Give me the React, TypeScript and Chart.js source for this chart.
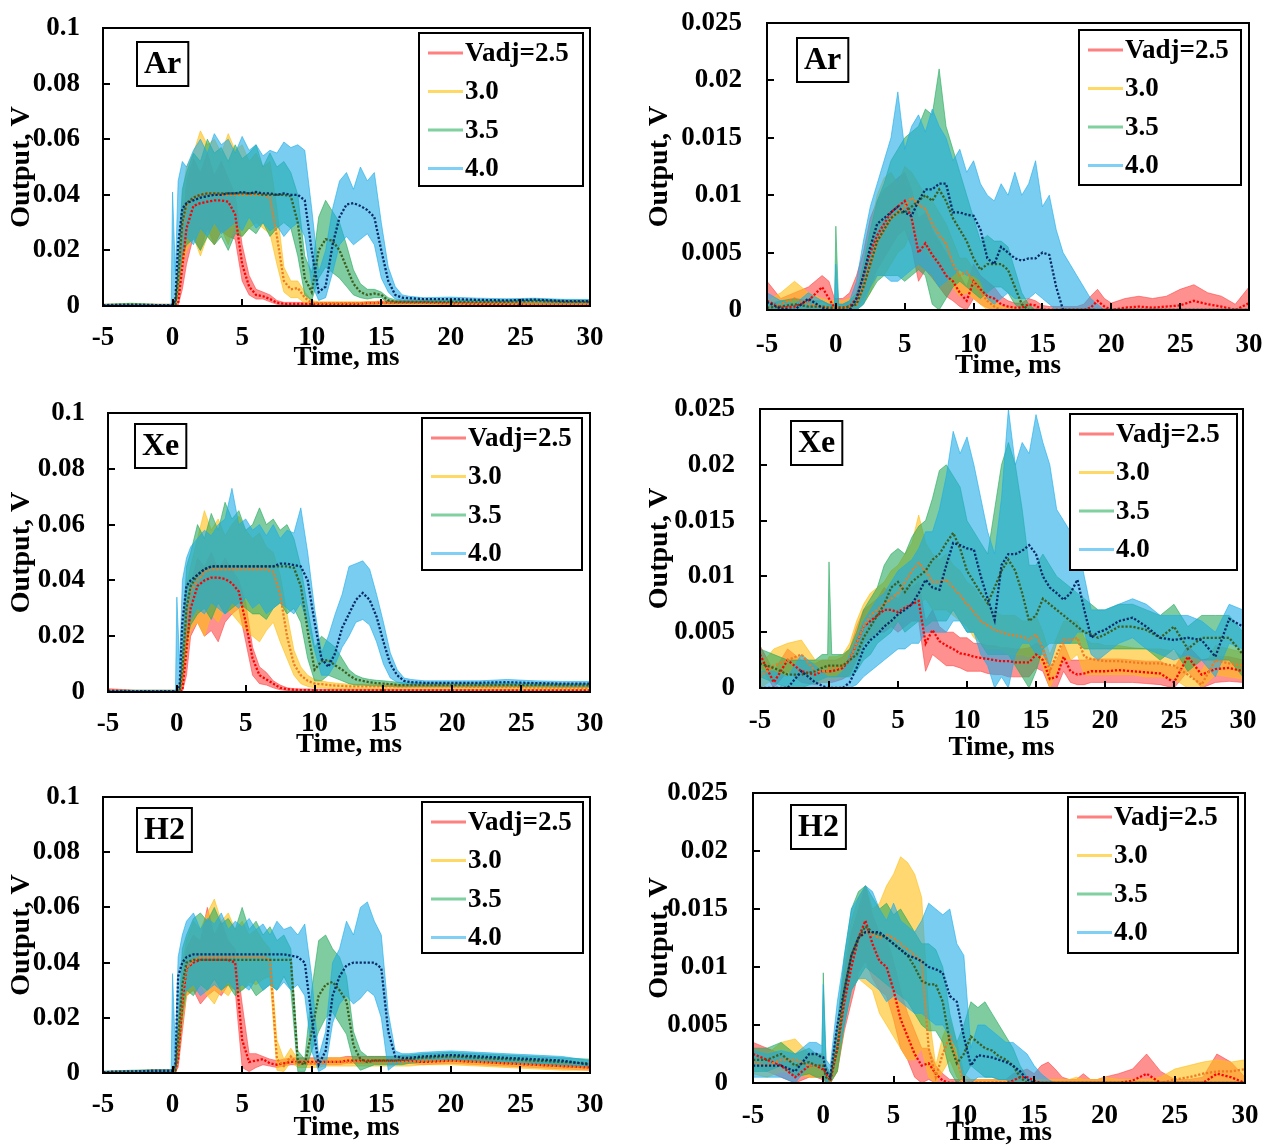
import React, { useEffect, useRef } from "react";
import { Chart, registerables } from "chart.js";
Chart.register(...registerables);

// ---------- time grids (ms) ----------
const T_LEFT = [-5,-3,-1,-0.1,0,0.2,0.4,0.7, 1,1.5,2,2.5,3,3.5,4,4.5,5,5.5, 6,6.5,7,7.5,8,8.5,9,9.5,10,10.5, 11,11.5,12,12.5,13,13.5,14,14.5,15,15.5, 16,16.5,17, 18,20,22,24,26,28,30];
const T_RIGHT = [-5,-4,-3,-2,-1,-0.5,-0.1,0,0.2, 0.5,1,1.5,2,2.5,3,3.5,4,4.5,5, 5.5,6,6.5,7,7.5,8,8.5,9,9.5,10, 10.5,11,11.5,12,12.5,13,13.5,14,14.5,15, 15.5,16,16.5,17,17.5,18,18.5,19,19.5,20, 21,22,23,24,25,26,27,28,29,30];

const SERIES_LABELS = ["Vadj=2.5", "3.0", "3.5", "4.0"];
const X_TITLE = "Time, ms";
const Y_TITLE = "Output, V";

// ---------- values in mV ----------
// Ar, 0-0.1 V
const AR_A_25_MEAN = [0.3,0.3,0.3,0.3,0.3,0.3,1,14, 28,36,37,37.5,38,38,37.5,33,15,7, 4,3.5,2.5,1.2,0.8,0.8,0.8,0.8,0.8,0.8, 0.8,0.8,0.8,0.8,0.8,0.8,1,1,1.2,1.2, 1.2,1.2,1.2, 1.2,1,0.8,0.6,0.5,0.5,0.5];
const AR_A_25_HI = [0.6,0.6,0.6,0.6,0.6,0.6,2,25, 45,53,48,55,47,52,46,40,22,11, 6,5,4,2,1.3,1.3,1.3,1.3,1.3,1.3, 1.3,1.3,1.3,1.3,1.3,1.3,1.6,1.6,1.8,1.8, 1.8,1.8,1.8, 1.8,1.5,1.3,1.1,1,1,1];
const AR_A_25_LO = [0,0,0,0,0,0,0.3,6, 15,25,20,28,22,27,25,24,9,4, 2.5,2.5,1.5,0.6,0.4,0.4,0.4,0.4,0.4,0.4, 0.4,0.4,0.4,0.4,0.4,0.4,0.5,0.5,0.7,0.7, 0.7,0.7,0.7, 0.7,0.5,0.4,0.2,0.1,0.1,0.1];
const AR_A_30_MEAN = [0.3,0.3,0.3,0.3,0.3,0.5,8,28, 36,39,40,40.5,40.5,40,40,40,40,40, 40,40,39,25,9,6,6.5,3,1.2,1, 1,1,1,1,1,1,1,1,1,1, 1,1,1, 1,1,1,1,0.8,0.8,0.8];
const AR_A_30_HI = [0.6,0.6,0.6,0.6,0.6,1,12,40, 50,55,63,58,60,55,62,56,58,52, 55,50,52,35,14,9,9,5,2,1.5, 1.5,1.5,1.5,1.5,1.5,1.5,1.5,1.5,1.5,1.5, 1.5,1.5,1.5, 1.5,1.5,1.5,1.5,1.2,1.2,1.2];
const AR_A_30_LO = [0,0,0,0,0,0.2,3,15, 20,25,18,25,22,28,22,30,25,28, 30,28,26,15,5,3,3,1,0.5,0.5, 0.5,0.5,0.5,0.5,0.5,0.5,0.5,0.5,0.5,0.5, 0.5,0.5,0.5, 0.5,0.5,0.5,0.5,0.4,0.4,0.4];
const AR_A_35_MEAN = [0.3,0.6,0.3,0.3,0.3,0.5,10,30, 37,39,40,40.5,40.5,40.5,40.5,40.5,40.5,40.5, 40.5,40,40,40,40,39.5,30,10,5,20, 24,23.5,20,14,8,5,4,4.5,4,2, 1.5,1.5,1.5, 1.5,1.5,1.5,1.5,1.8,1.5,1.5];
const AR_A_35_HI = [0.6,1,0.6,0.6,0.6,1,15,42, 48,55,52,60,55,57,52,58,53,55, 58,50,55,50,52,48,40,18,12,32, 38,34,30,22,13,8,6,6,5,3, 2.2,2.2,2.2, 2.2,2.2,2.2,2.2,2.5,2.2,2.2];
const AR_A_35_LO = [0,0.2,0,0,0,0.2,4,18, 22,24,20,25,22,25,20,26,25,28, 26,30,25,28,30,28,18,4,2,10, 14,12,10,7,4,3,2.5,3,3,1, 1,1,1, 1,1,1,1,1.2,1,1];
const AR_A_40_MEAN = [0.3,0.3,0.3,0.3,0.5,2,22,35, 37,38,39,39.5,40,40,40.5,40.5,41,40.5, 41,40.5,40.5,40,40.5,40,40,38,20,5, 7,22,32,36.5,37,36,34.5,32,20,9, 4,3,2.8, 2.5,2.5,2.2,2,2.3,1.8,1.7];
const AR_A_40_HI = [0.5,0.5,0.5,0.5,41,12,45,52, 50,56,60,55,62,58,60,55,61,56, 58,54,56,55,59,57,58,56,35,12, 20,35,45,48,42,50,45,48,30,14, 7,4,3.5, 3,3.2,2.8,2.6,2.8,2.4,2.3];
const AR_A_40_LO = [0,0,0,0,0.2,0.5,10,20, 25,22,28,25,30,26,28,30,27,32, 28,30,27,29,25,28,30,25,8,2, 3,12,22,25,22,24,26,22,10,5, 2.5,2,2, 1.8,1.8,1.6,1.5,1.6,1.3,1.2];

// Xe, 0-0.1 V
const XE_A_25_MEAN = [0.5,0.3,0.3,0.3,0.3,0.3,0.5,15, 30,38,40,41,41,40.5,39,36,25,12, 6,4.5,3,1.5,1,0.8,0.7,0.7,0.6,0.6, 0.6,0.6,0.6,0.6,0.6,0.6,0.6,0.6,0.6,0.6, 0.6,0.6,0.6, 0.6,0.6,0.6,0.6,0.6,0.6,0.6];
const XE_A_25_HI = [1.2,0.6,0.6,0.6,0.6,0.6,1,25, 38,48,45,50,44,48,44,40,32,16, 9,7,4,2.5,1.5,1.2,1.1,1.1,1,1, 1,1,1,1,1,1,1,1,1,1, 1,1,1, 1,1,1,1,1,1,1];
const XE_A_25_LO = [0,0,0,0,0,0,0.2,6, 20,25,20,22,18,25,28,30,18,6, 3,2.5,1.5,0.8,0.5,0.4,0.3,0.3,0.2,0.2, 0.2,0.2,0.2,0.2,0.2,0.2,0.2,0.2,0.2,0.2, 0.2,0.2,0.2, 0.2,0.2,0.2,0.2,0.2,0.2,0.2];
const XE_A_30_MEAN = [0.3,0.3,0.3,0.3,0.3,0.5,5,25, 36,40,43,44,44,44,44,44,44,44, 44,44,43,35,20,10,6,4,3,2.8, 2.5,2.3,2.2,2,2,2,2,2,2,2, 2,2,2, 2,2,1.8,1.8,1.6,1.6,1.5];
const XE_A_30_HI = [0.6,0.6,0.6,0.6,0.6,1,10,38, 45,55,65,58,62,56,60,63,58,55, 57,52,50,42,28,15,9,6,4.5,4, 3.5,3.2,3,2.8,2.8,2.8,2.8,2.8,2.8,2.8, 2.8,2.8,2.8, 2.8,2.8,2.6,2.6,2.4,2.4,2.2];
const XE_A_30_LO = [0,0,0,0,0,0.2,2,14, 22,25,20,28,25,30,28,25,22,20, 18,22,25,18,12,6,3,2,1.5,1.5, 1.3,1.2,1.2,1.2,1.2,1.2,1.2,1.2,1.2,1.2, 1.2,1.2,1.2, 1.2,1.2,1,1,0.9,0.9,0.8];
const XE_A_35_MEAN = [0.3,0.3,0.3,0.3,0.3,0.5,8,30, 38,42,44,45,45,45,45,45,45,45, 45,45,45,45,45,44.5,38,22,8,11, 11.5,9.5,8,6,4.5,4,3.5,3.2,3,2.8, 2.5,2.5,2.5, 2.5,2.5,2.5,2.5,2.5,2.4,2.4];
const XE_A_35_HI = [0.6,0.6,0.6,0.6,0.6,1,14,45, 50,60,55,64,58,68,62,65,58,60, 66,60,62,58,60,55,45,30,16,20, 18,16,12,8,6,5,4.5,4.2,4,3.8, 3.5,3.3,3.3, 3.2,3.2,3.2,3.2,3.2,3,3];
const XE_A_35_LO = [0,0,0,0,0,0.2,3,18, 24,28,30,26,32,28,30,32,30,28, 28,26,30,32,28,30,25,12,4,4, 6,5,4,3,2.5,2.5,2.2,2.2,2,2, 1.8,1.8,1.8, 1.8,1.8,1.8,1.8,1.8,1.7,1.7];
const XE_A_40_MEAN = [0.3,0.3,0.3,0.3,0.5,2,25,38, 40,42,44,45,45,45,45,45,45,45, 45,45,45,46,46,45.5,45,40,25,12, 9,14,23,28,33,35.5,33,27,18,10, 6,4,3.5, 3.3,3.3,3.3,3.5,3.2,3,3];
const XE_A_40_HI = [0.6,0.6,0.6,0.6,34,10,40,48, 52,55,58,56,60,62,73,60,62,58, 60,56,60,55,58,57,66,50,30,14, 20,28,35,45,46,47,44,35,25,14, 8,5,4.5, 4,4,4,4.5,4,3.8,3.8];
const XE_A_40_LO = [0,0,0,0,0.2,0.5,12,24, 26,30,28,32,30,28,32,30,34,30, 32,28,30,32,30,28,32,25,15,6, 6,10,16,20,25,26,24,18,10,5, 3.5,2.8,2.5, 2.5,2.5,2.5,2.6,2.4,2.2,2.2];

// H2, 0-0.1 V
const H2_A_25_MEAN = [0.3,0.5,0.8,0.8,0.8,0.8,5,25, 38,40,41,41,41,41,41,40,12,4, 4.5,5,3.5,3,3.5,4,4,4,4,4, 4,4,4,4.5,4.5,4.5,4.5,4.5,4.5,4.5, 4.5,4.5,4.5, 4,4.5,4,3.5,3,2.5,2];
const H2_A_25_HI = [0.6,0.8,1.2,1.2,1.2,1.2,8,35, 45,50,48,60,50,55,48,45,25,7, 7,6,5,4.5,5,5.5,5.5,5.5,5.5,5.5, 5.5,5.5,5.5,6,6,6,6,6,6,6, 6,6,6, 5.5,6,5.5,5,4.5,4,3.5];
const H2_A_25_LO = [0,0.2,0.4,0.4,0.4,0.4,2,15, 28,30,25,28,30,28,32,30,2,0.5, 2,3,2.5,2,2.5,3,3,3,3,3, 3,3,3,3.5,3.5,3.5,3.5,3.5,3.5,3.5, 3.5,3.5,3.5, 3,3.5,3,2.5,2,1.5,1];
const H2_A_30_MEAN = [0.3,0.5,0.8,0.8,0.8,1,10,30, 38,41,42,42,42,42,42,42,42,42, 42,42,41,5,2.5,6,3,3.5,3.5,3.5, 4,4,4,4,4,4,4,4,4,4, 4,4,4, 4.5,4.5,4,3.5,3,2.5,2];
const H2_A_30_HI = [0.6,0.8,1.2,1.2,1.2,1.5,15,40, 48,55,52,58,63,55,58,52,55,50, 52,48,45,12,5,9,5,5,5,5, 5.5,5.5,5.5,5.5,5.5,5.5,5.5,5.5,5.5,5.5, 5.5,5.5,5.5, 6,6,5.5,5,4.5,3.5,3];
const H2_A_30_LO = [0,0.2,0.4,0.4,0.4,0.5,4,18, 28,30,32,28,25,30,28,32,30,33, 32,34,35,1,0.5,4,2,2,2,2, 2.5,2.5,2.5,2.5,2.5,2.5,2.5,2.5,2.5,2.5, 2.5,2.5,2.5, 3,3,2.5,2,1.5,1,1];
const H2_A_35_MEAN = [0.3,0.6,0.8,0.8,0.8,1,12,32, 40,41,41,41,41,41,41,41,41,41, 41,41,41,41,41,41,4,3,15,28, 32,33,30,26,10,5,4,4.5,4.5,4.5, 4.5,4.8,5, 5.5,6,5.5,5,4.5,4,3.5];
const H2_A_35_HI = [0.6,1,1.2,1.2,1.2,1.5,18,45, 50,56,58,55,60,54,56,52,60,52, 55,50,53,48,50,45,8,5,30,48, 50,45,42,35,15,8,6,6,6,6, 6,6.5,6.5, 7,7.5,7,6.5,6,5.5,5];
const H2_A_35_LO = [0,0.2,0.4,0.4,0.4,0.5,5,20, 30,28,32,30,34,30,32,28,30,32, 28,30,32,30,35,30,0.5,0.5,8,15, 20,22,18,14,4,1,2,3,3,3, 3,3,3.5, 4,4.5,4,3.5,3,2.5,2];
const H2_A_40_MEAN = [0.3,0.5,0.8,0.8,1,3,35,40, 42,43,43,43,43,43,43,43,43,43, 43,43,43,43,43,42.5,42,40,20,3, 8,28,35,39,40,40,40,40,38,15, 6,5.5,5.5, 6,6.5,6,5.5,5,4.5,3];
const H2_A_40_HI = [0.6,0.8,1.2,1.2,36,8,42,50, 55,58,52,56,54,58,52,55,53,56, 52,54,50,55,52,53,50,54,35,6, 15,40,45,55,50,60,62,55,50,22, 8,7,7, 7.5,8,7.5,7,6.5,6,4.5];
const H2_A_40_LO = [0,0.2,0.4,0.4,0.5,1,20,28, 30,32,28,30,32,30,33,30,32,30, 34,30,32,30,33,30,32,28,8,0.5, 2,18,25,28,25,27,30,28,20,1, 3,4,4, 4.5,5,4.5,4,3.5,3,2];

// Ar, 0-0.025 V
const AR_B_25_MEAN = [0.8,0.2,0.3,0.8,2,1,0.2,0.2,0.2, 0.2,0.3,1,3,5,6.5,7.5,8.5,9,9.5, 8,5,5.8,4.8,4,3,2.5,1.5,0.8,2.5, 1.8,1.2,1,0.5,0.3,0.2,0.2,0.5,0.4,0, 0,0,0,0,0,0,0.2,0.8,0.3,0, 0.2,0.3,0.2,0.3,0.4,0.8,0.5,0.3,0,0.6];
const AR_B_25_HI = [2.5,1,1.5,2,3,2.5,1,1,1, 1,1.5,3,5,8,9.5,10.5,11,11.5,12, 10.5,8,8.5,7,6,5,4,3,2,4, 3,2.5,2,1.2,0.8,0.6,0.6,1,0.8,0.4, 0.3,0.3,0.3,0.3,0.3,0.5,1.2,1.8,1,0.6, 1,1.2,1,1.2,1.8,2.2,1.5,1.2,0.5,2];
const AR_B_25_LO = [0,0,0,0,0.8,0.3,0,0,0, 0,0,0,1,2,3.5,4.5,5.5,6.5,7, 5.5,2.5,3.5,2.8,2,1.2,0.8,0.3,0,1, 0.5,0.2,0,0,0,0,0,0,0,0, 0,0,0,0,0,0,0,0.2,0,0, 0,0,0,0,0,0,0,0,0,0];
const AR_B_30_MEAN = [0.2,0.5,1,0.5,0.3,0.2,0.2,0.2,0.2, 0.2,0.3,0.5,2,4,6,7,8,8.5,9, 9.8,9.2,8.8,7.5,6.5,5.8,4,3,3.3,2.5, 1.5,0.8,0.3,0,0,0,0,0,0,0, 0,0,0,0,0,0,0,0,0,0, 0,0,0,0,0,0,0,0,0,0];
const AR_B_30_HI = [0.8,1.5,2.5,1.5,1,0.8,0.8,0.8,0.8, 0.8,1,1.5,4,7,10,11.5,12,11,12.5, 12,11,10,9.5,8.5,7.5,6,4.5,4.5,3.5, 2.5,1.5,0.8,0.3,0.2,0.2,0,0,0,0, 0,0,0,0,0,0,0,0,0,0, 0,0,0,0,0,0,0,0,0,0];
const AR_B_30_LO = [0,0,0.2,0,0,0,0,0,0, 0,0,0,0.5,1.5,3,3,4,5,5.5, 7,6,5,4.5,4,3,2,1.2,1.5,1, 0.5,0,0,0,0,0,0,0,0,0, 0,0,0,0,0,0,0,0,0,0, 0,0,0,0,0,0,0,0,0,0];
const AR_B_35_MEAN = [0.2,0.3,0.5,0.3,0.3,0.2,0.2,0.2,0.2, 0.2,0.3,0.5,2,4,6,7,8,8.5,8.5, 9,9.5,10,9.5,10.5,9.5,8,7,6,4.5, 3.5,4,4,4,3.5,2,0.5,0,0,0, 0,0,0,0,0,0,0,0,0,0, 0,0,0,0,0,0,0,0,0,0];
const AR_B_35_HI = [0.5,0.8,1,0.8,0.8,0.5,0.5,7.3,0.5, 0.5,0.8,1.5,4,7,9.5,11,13,14,15, 15.5,16,17.5,17,21,16,14,12,10,8, 6,6.5,6,6,5.5,3.5,1.5,0.5,0,0, 0,0,0,0,0,0,0,0,0,0, 0,0,0,0,0,0,0,0,0,0];
const AR_B_35_LO = [0,0,0,0,0,0,0,0,0, 0,0,0,0.5,1.5,2.5,3,3,3,2.5, 3,3.5,3,0.5,0,1,2,2.5,2,1.5, 1,1.5,2,2,1.5,0.5,0,0,0,0, 0,0,0,0,0,0,0,0,0,0, 0,0,0,0,0,0,0,0,0,0];
const AR_B_40_MEAN = [0.7,0.1,0,1,0.2,0,0,0,0, 0,0,1,3,5.5,7.5,8,8.5,9,8.5, 8.2,9.5,10.5,10.5,11,11,8.5,8.5,8.3,8.2, 7,4.5,4,5.5,5,4.5,4.3,4.5,4.5,5, 4.8,2,0,0,0,0,0,0,0,0, 0,0,0,0,0,0,0,0,0,0];
const AR_B_40_HI = [1.5,0.8,0.5,1.5,0.8,0.5,0.5,4,0.5, 0.5,0.8,2.5,6,9,11,13,15,19,14, 16,17,15.5,17.5,16,15,13,14,12,13, 11,10,9.5,11,10,12,10,11,13,9, 10,7,5,4,3,2,1,0.5,0,0, 0,0,0,0,0,0,0,0,0,0];
const AR_B_40_LO = [0,0,0,0,0,0,0,0,0, 0,0,0,0.5,2,3,3,2.5,2.5,3, 3.5,4,3.5,3,2,2.5,3,3.5,3,3, 2.5,1,0.5,1,1.5,1,1,1,1.5,1, 0.5,0,0,0,0,0,0,0,0,0, 0,0,0,0,0,0,0,0,0,0];

// Xe, 0-0.025 V
const XE_B_25_MEAN = [3,0.5,2.5,1.5,1.2,1.5,1.5,1.5,1.5, 1.6,1.8,2.5,4,5.5,6,6.5,7,7,6.8, 7.2,7.5,7.8,4,5.2,4.2,3.8,3.5,3.1,3, 2.8,2.7,2.6,2.5,2.4,2.4,2.3,2.3,2.3,3, 2.5,0.8,1,2.8,1.5,1.2,1.3,1.5,1.5,1.5, 1.6,1.5,1.4,1.3,0.5,2.8,1.2,1.7,1.8,1.5];
const XE_B_25_HI = [3.8,1.5,3.5,2.5,2.2,2.5,2.5,2.5,2.5, 2.5,2.8,3.5,5.5,7,7.5,8,9,8.5,8, 9,9,9.5,6,7,5.5,5,5,4.5,4.5, 4,4,3.8,3.8,3.6,3.6,3.5,3.5,3.6,4, 3.8,2,2.5,4,2.5,2.5,2.5,2.6,2.6,2.6, 2.6,2.5,2.4,2.4,1.8,3.8,2.5,2.8,2.8,2.5];
const XE_B_25_LO = [2,0,1.5,0.5,0.3,0.5,0.5,0.5,0.5, 0.6,0.8,1.2,2.5,4,4.5,5,5,5.5,5, 5.5,6,6,1.5,3,2.5,2,2,1.8,1.5, 1.5,1.5,1.3,1.2,1.2,1,1,1,1,1.8, 1.5,0,0,1.5,0.5,0.3,0.3,0.5,0.5,0.5, 0.5,0.5,0.4,0.3,0,1.5,0,0.5,0.6,0.5];
const XE_B_30_MEAN = [1,2,2.5,3,1.5,1.5,1.5,1.8,1.8, 1.8,2,2.5,4,5.5,6.5,7,7.5,8,8.5, 9.5,10.5,11.2,10.5,9.5,9.5,9.7,9,8.3,7.5, 6.8,6,5.6,5.2,5,4.8,4.7,4.6,4.3,4.8, 3.5,1.5,3,4.3,4.3,4.5,2.8,2.6,2.5,2.4, 2.4,2.3,2.2,2.2,2,1.2,0.3,2.5,2.2,2];
const XE_B_30_HI = [2,3.5,4,4.3,2.5,2.5,2.5,2.8,2.8, 2.8,3,4,6,7.5,8.5,9,9.5,10.5,11, 12,13,15.5,13,12,11.5,12,11,10.5,9.5, 9,8,7.5,7,6.5,6.5,6.5,6,6,6.5, 5,3,4.5,6,6,6,4.5,4,4,3.8, 3.8,3.6,3.5,3.5,3.3,2.5,1.5,3.8,3.5,3.2];
const XE_B_30_LO = [0,0.8,1.2,1.5,0.5,0.5,0.5,0.8,0.8, 0.8,1,1.2,2.5,4,4.5,5,5.5,5.5,6, 7,8,7.5,8,7,7,7,6.5,6,5.5, 4.5,4,3.5,3.5,3.5,3,3,3,2.8,3, 2,0,1.5,2.5,2.5,3,1.2,1.2,1.2,1.2, 1.2,1.2,1,1,0.8,0,0,1.2,1,0.8];
const XE_B_35_MEAN = [2.2,1.8,1.2,1.2,1.5,1.8,2,2,2, 2,2,2.5,3,4.5,5.5,6.5,7.5,9,9.5, 8.6,9.5,10,10.5,11.5,12,13,13.9,12.5,10.5, 9.5,8.5,7.6,9,10.5,11.5,10.5,8.5,6,6.5, 8,7.5,7,6.5,6,5.5,5,4.8,4.5,4.8, 5.5,5.5,5.2,4.5,5.5,3.5,4.5,4.5,4.5,3];
const XE_B_35_HI = [3.5,3,2.5,2.5,2.5,3,3,11.3,3, 3,3,3.5,5,7,8,9,11,12,12.5, 12,13.5,14.5,15,17,19.5,20,19,18,15, 14,13,12,16,20,22,20,16,11,11, 12,11,10,9.5,9,8.5,8,7.5,7,7, 7.5,7.5,7,6.5,7.5,5.5,6.5,6.5,6.5,5];
const XE_B_35_LO = [1,0.5,0,0,0.5,0.8,1,1,1, 1,1,1,1.5,2.5,3,4,4.5,5,6, 5,5.5,6,5.5,6,6,6,7,6,5, 5,4,3,3,3,3,2,1,0,1.5, 3.5,4,4,4,4,4,3.5,3.5,3.5,3.5, 3.5,3.5,3.5,2.5,3.5,1.5,2.5,2.5,2.5,1];
const XE_B_40_MEAN = [0,0,0,1.5,0.5,0.2,0,0,0, 0,0,0.5,1.8,3.5,4.3,4.8,5.5,6,6.6, 7,7.5,8.5,9.7,9,8.8,11,13,12.8,12.5, 12.4,10,8,6.1,11,12,12,12.3,12.8,12, 10,9,8.5,7.9,8.5,9.7,7,4.5,5,5.2, 6,6.3,5.5,4.5,4.3,4.5,4.3,2.8,6.2,5.5];
const XE_B_40_HI = [1.5,1.5,1,3,2,1.5,1,1,1, 1,1.5,3,4.5,6,7,8,8.5,9.5,10.5, 11,11.5,12.5,14,14,16,19,23,21,22.5, 20,17,14,12,17,25,20,22,21,24.5, 22,20,16,15,14,13,10,7,7,7, 7.5,8,7.5,6.5,6.5,6.5,6,5,7.5,7];
const XE_B_40_LO = [0,0,0,0,0,0,0,0,0, 0,0,0,0.3,1,1.5,2,2.5,3,3.5, 3.5,4,4,5,5,5,5,6,6,5, 5,3,2,0,1,0,3,4,4,3, 3,2,4,4,4,5,5,3,2.5,3, 4,4.5,3.5,3,2.5,3,2.5,1,4,3.5];

// H2, 0-0.025 V
const H2_B_25_MEAN = [2.5,2,1.5,0.5,1.5,1.5,1.2,1.2,0.8, 0.2,3,7,10,12.5,14,12,10.5,10,8, 5.5,4,2.5,1.5,1.7,0.8,0.2,0,0,0, 0,0,0,0,0,0,0.2,0.5,0.5,0.2, 0,0,0,0,0,0,0,0,0,0, 0,0.2,0.8,0,0,0,0,0.8,0.5,0];
const H2_B_25_HI = [3.5,3,2.5,1.5,2.5,2.5,2.2,2.2,1.5, 0.8,5,9.5,13,15,17,14.5,13,12.5,10.5, 8,6,4.5,3,3,1.5,0.8,0.3,0.3,0.3, 0.3,0.3,0.3,0.3,0.3,0.3,0.8,1,1.2,0.8, 1.5,1.8,1.2,0.5,0.3,0.3,0.8,0.3,0.3,0.5, 0.8,1.2,2.5,1,0.3,0.3,0.5,2.5,1.8,0.5];
const H2_B_25_LO = [1.5,1,0.5,0,0.5,0.5,0.3,0.3,0, 0,1,4.5,7,9.5,10.5,9,8,7.5,5.5, 3,2,0.5,0,0.3,0,0,0,0,0, 0,0,0,0,0,0,0,0,0,0, 0,0,0,0,0,0,0,0,0,0, 0,0,0,0,0,0,0,0,0,0];
const H2_B_30_MEAN = [1.8,1.5,2,2,1.5,1.5,1.5,1.5,0.8, 0.2,3,8,11,12.5,13,12.8,12.5,12.8,12.5, 12,11.5,11,10.5,3,0.5,2.5,4,2,0, 0,0,0,0,0,0,0,0,0,0, 0,0,0,0,0,0,0,0,0,0, 0,0,0,0,0.3,0.5,0.8,1,1,1.2];
const H2_B_30_HI = [2.8,2.5,3.5,3.8,2.5,2.5,2.5,2.5,1.5, 0.8,5,10,14,16,17,15,15.5,17,18, 19.5,19,18,16,6,1.5,4,5.5,3.5,0.8, 0.3,0.3,0.3,0.3,0.3,0.3,0.3,0.3,0.3,0.3, 0.3,0.3,0.3,0.3,0.3,0.5,0.3,0.3,0.3,0.5, 0.3,0.3,0.3,0.5,1.2,1.5,1.8,2,1.8,2];
const H2_B_30_LO = [0.8,0.5,1,0.8,0.5,0.5,0.5,0.5,0, 0,1,5,8,9,8.5,8,6,5,4, 3,2,2,3,0.5,0,1,2,0.5,0, 0,0,0,0,0,0,0,0,0,0, 0,0,0,0,0,0,0,0,0,0, 0,0,0,0,0,0,0,0,0,0];
const H2_B_35_MEAN = [2,2,2.5,1.5,1.8,1.5,1.5,1.5,0.5, 0.3,3,8,11,12.5,13.5,13,12.8,12.5,12, 11.5,11,10,8.8,8.5,8.5,7,3.5,1.7,2.5, 4,3.5,3,2.8,2.3,2,1.5,0.5,0,0, 0,0,0,0,0,0,0,0,0,0, 0,0,0,0,0,0,0,0,0,0];
const H2_B_35_HI = [3,3,3.5,2.5,3,2.5,2.5,9.5,1.5, 0.8,5,11,15,16.5,17,16,15,15.5,14.5, 15,14,13,12,12,11.5,10,6,3.5,5, 7,6.5,7,6,5,4,3,1.5,0.5,0, 0,0,0,0,0,0,0,0,0,0, 0,0,0,0,0,0,0,0,0,0];
const H2_B_35_LO = [1,1,1.5,0.5,0.8,0.5,0.5,0.5,0, 0,1,5,8,9,10,9.5,9,8.5,8, 7.5,7,6,5,4.5,4.5,3.5,1,0,0.5, 1.5,1,0.5,0.5,0.3,0.3,0,0,0,0, 0,0,0,0,0,0,0,0,0,0, 0,0,0,0,0,0,0,0,0,0];
const H2_B_40_MEAN = [1.5,1.5,1.5,1,2.5,2.5,2.2,2.2,1, 0.5,5,8,11,12.5,13,13,13,12.5,12, 11.5,11,10.8,10.5,10,9.8,9.5,7.5,7,4, 1.5,2.4,2.3,2.2,2,1.8,1.5,1,0.3,0, 0,0,0,0,0,0,0,0,0,0, 0,0,0,0,0,0,0,0,0,0];
const H2_B_40_HI = [2.8,2.5,2.8,2.5,3.5,3.5,3.2,8.5,2, 1.5,7,11,15,16,17,16.5,15,14,15.5, 14,13.5,13,14,15.5,15,14.5,15,12,11, 3,5,5,4.5,4,3.5,3.5,3,2.5,1.5, 0.8,0.3,0,0,0,0,0,0,0,0, 0,0,0,0,0,0,0,0,0,0];
const H2_B_40_LO = [0.5,0.5,0.5,0,1.5,1.5,1.2,1.2,0, 0,2.5,5,8,9,9,8.5,8,7,7.5, 7,6.5,6,6,5.5,5,5,4,3,0, 0,0.5,0.5,0.5,0.3,0.3,0,0,0,0, 0,0,0,0,0,0,0,0,0,0, 0,0,0,0,0,0,0,0,0,0];

// ---------- styles ----------
const FONT = "'Liberation Serif', 'Times New Roman', serif";
const BAND_COLORS = ["rgba(255,70,70,0.6)", "rgba(255,190,20,0.6)", "rgba(40,170,95,0.6)", "rgba(30,172,232,0.6)"];
const MEAN_COLORS = ["#ff0000", "#ee7a22", "#3e5d1f", "#0a2a68"];
const LEGEND_COLORS = ["#ff8080", "#ffd966", "#80d0a0", "#80d0f5"];

type Panel = {
  gas: string; t: number[]; yMax: number; yStep: number;
  mean: number[][]; hi: number[][]; lo: number[][];
  L: number; T: number; R: number; B: number;
  canvasLeft: number; xLabelPad: number; yLabelPad: number; xTitleDy: number; yTitleX: number;
  lab: { dx: number; dy: number };
  leg: { x: number; y: number; w: number; h: number };
};

const PANELS: Panel[] = [
  { gas: "Ar", t: T_LEFT, yMax: 0.1, yStep: 0.02,
    mean: [AR_A_25_MEAN, AR_A_30_MEAN, AR_A_35_MEAN, AR_A_40_MEAN], hi: [AR_A_25_HI, AR_A_30_HI, AR_A_35_HI, AR_A_40_HI], lo: [AR_A_25_LO, AR_A_30_LO, AR_A_35_LO, AR_A_40_LO],
    L: 103, T: 28, R: 590, B: 306, canvasLeft: 0, xLabelPad: 16, yLabelPad: 23, xTitleDy: 52, yTitleX: 22,
    lab: { dx: 34, dy: 14 }, leg: { x: 419, y: 33, w: 164, h: 153 } },
  { gas: "Ar", t: T_RIGHT, yMax: 0.025, yStep: 0.005,
    mean: [AR_B_25_MEAN, AR_B_30_MEAN, AR_B_35_MEAN, AR_B_40_MEAN], hi: [AR_B_25_HI, AR_B_30_HI, AR_B_35_HI, AR_B_40_HI], lo: [AR_B_25_LO, AR_B_30_LO, AR_B_35_LO, AR_B_40_LO],
    L: 767, T: 23, R: 1249, B: 310, canvasLeft: 630, xLabelPad: 19, yLabelPad: 25, xTitleDy: 56, yTitleX: 660,
    lab: { dx: 30, dy: 15 }, leg: { x: 1079, y: 30, w: 162, h: 155 } },
  { gas: "Xe", t: T_LEFT, yMax: 0.1, yStep: 0.02,
    mean: [XE_A_25_MEAN, XE_A_30_MEAN, XE_A_35_MEAN, XE_A_40_MEAN], hi: [XE_A_25_HI, XE_A_30_HI, XE_A_35_HI, XE_A_40_HI], lo: [XE_A_25_LO, XE_A_30_LO, XE_A_35_LO, XE_A_40_LO],
    L: 108, T: 413, R: 590, B: 692, canvasLeft: 0, xLabelPad: 16, yLabelPad: 23, xTitleDy: 53, yTitleX: 22,
    lab: { dx: 27, dy: 11 }, leg: { x: 422, y: 418, w: 160, h: 152 } },
  { gas: "Xe", t: T_RIGHT, yMax: 0.025, yStep: 0.005,
    mean: [XE_B_25_MEAN, XE_B_30_MEAN, XE_B_35_MEAN, XE_B_40_MEAN], hi: [XE_B_25_HI, XE_B_30_HI, XE_B_35_HI, XE_B_40_HI], lo: [XE_B_25_LO, XE_B_30_LO, XE_B_35_LO, XE_B_40_LO],
    L: 760, T: 409, R: 1243, B: 688, canvasLeft: 630, xLabelPad: 17, yLabelPad: 25, xTitleDy: 60, yTitleX: 660,
    lab: { dx: 31, dy: 12 }, leg: { x: 1070, y: 414, w: 167, h: 156 } },
  { gas: "H2", t: T_LEFT, yMax: 0.1, yStep: 0.02,
    mean: [H2_A_25_MEAN, H2_A_30_MEAN, H2_A_35_MEAN, H2_A_40_MEAN], hi: [H2_A_25_HI, H2_A_30_HI, H2_A_35_HI, H2_A_40_HI], lo: [H2_A_25_LO, H2_A_30_LO, H2_A_35_LO, H2_A_40_LO],
    L: 103, T: 797, R: 590, B: 1073, canvasLeft: 0, xLabelPad: 16, yLabelPad: 23, xTitleDy: 55, yTitleX: 22,
    lab: { dx: 34, dy: 11 }, leg: { x: 422, y: 802, w: 161, h: 151 } },
  { gas: "H2", t: T_RIGHT, yMax: 0.025, yStep: 0.005,
    mean: [H2_B_25_MEAN, H2_B_30_MEAN, H2_B_35_MEAN, H2_B_40_MEAN], hi: [H2_B_25_HI, H2_B_30_HI, H2_B_35_HI, H2_B_40_HI], lo: [H2_B_25_LO, H2_B_30_LO, H2_B_35_LO, H2_B_40_LO],
    L: 753, T: 793, R: 1245, B: 1083, canvasLeft: 630, xLabelPad: 17, yLabelPad: 25, xTitleDy: 50, yTitleX: 660,
    lab: { dx: 38, dy: 12 }, leg: { x: 1068, y: 797, w: 170, h: 156 } },
];

const PAD_T = 18, PAD_R = 15, PAD_B = 75;

function PanelChart({ p }: { p: Panel }) {
  const ref = useRef<HTMLCanvasElement | null>(null);
  const padL = p.L - p.canvasLeft;
  const cw = padL + (p.R - p.L) + PAD_R;
  const ch = PAD_T + (p.B - p.T) + PAD_B;
  const top = p.T - PAD_T;

  useEffect(() => {
    if (!ref.current) return;
    const toPts = (arr: number[]) => p.t.map((x, k) => ({ x, y: arr[k] / 1000 }));
    const datasets: any[] = [];
    for (let i = 0; i < 4; i++) {
      datasets.push({ data: toPts(p.mean[i]), borderColor: MEAN_COLORS[i], borderWidth: 2.3, borderDash: [2.2, 1.8], pointRadius: 0, fill: false, tension: 0, order: -i });
    }
    for (let i = 0; i < 4; i++) {
      datasets.push({ data: toPts(p.hi[i]), borderColor: BAND_COLORS[i], borderWidth: 1, pointRadius: 0, fill: false, tension: 0, order: 4 - i });
      datasets.push({ data: toPts(p.lo[i]), borderColor: BAND_COLORS[i], backgroundColor: BAND_COLORS[i], borderWidth: 1, pointRadius: 0, fill: "-1", tension: 0, order: 4 - i });
    }
    const tickFont = { family: FONT, weight: "bold" as const, size: 27 };
    const overlay = {
      id: "overlay",
      afterDraw(chart: any) {
        const ctx = chart.ctx as CanvasRenderingContext2D;
        const X = (v: number) => v - p.canvasLeft;
        const Y = (v: number) => v - top;
        const a = chart.chartArea;
        ctx.save();
        ctx.strokeStyle = "#000";
        ctx.fillStyle = "#000";
        ctx.lineWidth = 2;
        ctx.strokeRect(a.left, a.top, a.right - a.left, a.bottom - a.top);
        const ys = chart.scales.y, xs = chart.scales.x;
        ctx.beginPath();
        ys.ticks.forEach((tk: any, i: number) => {
          if (i === 0 || i === ys.ticks.length - 1) return;
          const py = Math.round(ys.getPixelForValue(tk.value));
          ctx.moveTo(a.left, py); ctx.lineTo(a.left + 7, py);
        });
        xs.ticks.forEach((tk: any, i: number) => {
          if (i === 0 || i === xs.ticks.length - 1) return;
          const px = Math.round(xs.getPixelForValue(tk.value));
          ctx.moveTo(px, a.bottom); ctx.lineTo(px, a.bottom - 7);
        });
        ctx.stroke();
        // gas label box
        ctx.font = `bold 32px ${FONT}`;
        const tw = ctx.measureText(p.gas).width;
        const bx = a.left + p.lab.dx, by = a.top + p.lab.dy, bw = tw + 14, bh = 44;
        ctx.fillStyle = "#fff"; ctx.fillRect(bx, by, bw, bh);
        ctx.strokeRect(bx, by, bw, bh);
        ctx.fillStyle = "#000"; ctx.textAlign = "center"; ctx.textBaseline = "middle";
        ctx.fillText(p.gas, bx + bw / 2, by + bh / 2 + 1);
        // legend
        const lx = X(p.leg.x), ly = Y(p.leg.y);
        ctx.fillStyle = "#fff"; ctx.fillRect(lx, ly, p.leg.w, p.leg.h);
        ctx.strokeRect(lx, ly, p.leg.w, p.leg.h);
        ctx.font = `bold 27px ${FONT}`;
        ctx.textAlign = "left";
        for (let i = 0; i < 4; i++) {
          const ry = ly + 20 + i * 38.5;
          ctx.strokeStyle = LEGEND_COLORS[i]; ctx.lineWidth = 3;
          ctx.beginPath(); ctx.moveTo(lx + 9, ry); ctx.lineTo(lx + 44, ry); ctx.stroke();
          ctx.fillStyle = "#000";
          ctx.fillText(SERIES_LABELS[i], lx + 46, ry + 1);
        }
        // axis titles
        ctx.fillStyle = "#000";
        ctx.font = `bold 27px ${FONT}`;
        ctx.textAlign = "center"; ctx.textBaseline = "middle";
        ctx.fillText(X_TITLE, (a.left + a.right) / 2, Y(p.B + p.xTitleDy));
        ctx.save();
        ctx.translate(X(p.yTitleX), (a.top + a.bottom) / 2);
        ctx.rotate(-Math.PI / 2);
        ctx.font = `bold 28px ${FONT}`;
        ctx.fillText(Y_TITLE, 0, 0);
        ctx.restore();
        ctx.restore();
      },
    };
    const chart = new Chart(ref.current, {
      type: "line",
      data: { datasets },
      options: {
        animation: false, responsive: false, devicePixelRatio: 1, events: [],
        layout: { padding: { left: 0, top: PAD_T, right: PAD_R, bottom: 0 } },
        plugins: { legend: { display: false }, tooltip: { enabled: false } },
        scales: {
          x: {
            type: "linear", min: -5, max: 30,
            ticks: { stepSize: 5, padding: p.xLabelPad, font: tickFont, color: "#000", maxRotation: 0, autoSkip: false, callback: (v: any) => String(v) },
            grid: { display: false, drawTicks: false }, border: { display: false },
            afterFit: (s: any) => { s.height = PAD_B; s.paddingLeft = 0; s.paddingRight = 0; s.paddingTop = 0; s.paddingBottom = 0; },
          },
          y: {
            type: "linear", min: 0, max: p.yMax,
            ticks: { stepSize: p.yStep, padding: p.yLabelPad, font: tickFont, color: "#000", callback: (v: any) => String(Number(Number(v).toFixed(4))) },
            grid: { display: false, drawTicks: false }, border: { display: false },
            afterFit: (s: any) => { s.width = padL; s.paddingLeft = 0; s.paddingRight = 0; s.paddingTop = 0; s.paddingBottom = 0; },
          },
        },
      } as any,
      plugins: [overlay],
    });
    return () => chart.destroy();
  }, []);

  return (
    <canvas ref={ref} width={cw} height={ch}
      style={{ position: "absolute", left: p.canvasLeft, top, width: cw, height: ch }} />
  );
}

export default function App() {
  return (
    <div style={{ position: "absolute", left: 0, top: 0, width: 1266, height: 1146, overflow: "hidden", background: "#fff" }}>
      {PANELS.map((p, i) => <PanelChart key={i} p={p} />)}
    </div>
  );
}
